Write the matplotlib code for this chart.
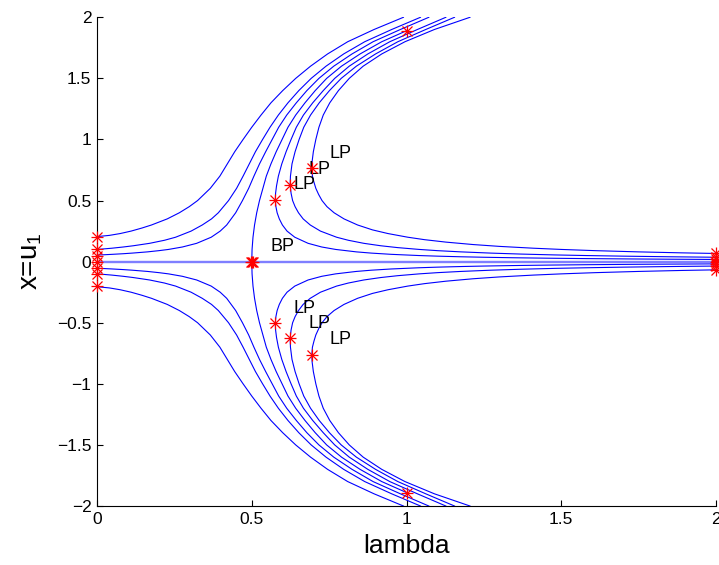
import numpy as np
import matplotlib
matplotlib.use('Agg')
import matplotlib.pyplot as plt

plt.rcParams['font.family'] = ['Liberation Sans', 'DejaVu Sans']
plt.rcParams['mathtext.fontset'] = 'custom'
plt.rcParams['mathtext.rm'] = 'Liberation Sans'

# upper half of each branch (x >= 0); the lower half is its mirror image
# branches starting at lambda = 0
a1_x = [0.205, 0.215, 0.23, 0.25, 0.275, 0.3, 0.35, 0.4, 0.45, 0.5, 0.6, 0.7, 0.8, 0.9, 1.0,
        1.1, 1.2, 1.3, 1.4, 1.5, 1.6, 1.7, 1.8, 1.9, 2.0]
a1_l = [0.0, 0.04, 0.075, 0.11, 0.145, 0.176, 0.227, 0.266, 0.298, 0.325, 0.366, 0.397, 0.421, 0.445, 0.472,
        0.50, 0.53, 0.562, 0.60, 0.642, 0.69, 0.745, 0.81, 0.895, 0.99]
a2_x = [0.1, 0.105, 0.11, 0.12, 0.13, 0.15, 0.175, 0.2, 0.25, 0.3, 0.35, 0.4, 0.5, 0.6, 0.7, 0.8, 0.9, 1.0,
        1.1, 1.2, 1.3, 1.4, 1.5, 1.6, 1.7, 1.8, 1.9, 2.0]
a2_l = [0.0, 0.025, 0.048, 0.085, 0.117, 0.17, 0.218, 0.254, 0.304, 0.34, 0.37, 0.392, 0.425, 0.451, 0.472,
        0.492, 0.512, 0.535, 0.559, 0.586, 0.617, 0.652, 0.692, 0.74, 0.797, 0.865, 0.952, 1.045]
a3_x = [0.054, 0.057, 0.06, 0.065, 0.07, 0.08, 0.09, 0.1, 0.12, 0.15, 0.2, 0.25, 0.3, 0.4, 0.5, 0.6, 0.7,
        0.8, 0.9, 1.0, 1.1, 1.2, 1.3, 1.4, 1.5, 1.6, 1.7, 1.8, 1.9, 2.0]
a3_l = [0.0, 0.027, 0.05, 0.085, 0.114, 0.163, 0.2, 0.231, 0.276, 0.322, 0.369, 0.398, 0.419, 0.448, 0.47,
        0.49, 0.507, 0.525, 0.545, 0.566, 0.587, 0.613, 0.644, 0.678, 0.717, 0.765, 0.824, 0.892, 0.98, 1.072]

# branch leaving the BP
b_x = [0.0, 0.1, 0.2, 0.3, 0.4, 0.5, 0.6, 0.7, 0.8, 0.9, 1.0, 1.1, 1.2, 1.3, 1.4, 1.5, 1.6, 1.7, 1.8, 1.89]
b_l = [0.5, 0.501, 0.504, 0.509, 0.516, 0.525, 0.536, 0.547, 0.562, 0.579, 0.598, 0.617, 0.642, 0.672,
       0.705, 0.742, 0.79, 0.85, 0.92, 1.0]

# branches with a limit point (coming from lambda = 2)
c1_x = [0.018, 0.02, 0.022, 0.025, 0.028, 0.032, 0.036, 0.04, 0.045, 0.05, 0.06, 0.07, 0.08, 0.1, 0.12,
        0.15, 0.2, 0.25, 0.3, 0.35, 0.4, 0.45, 0.505, 0.56, 0.62, 0.7, 0.8, 0.9, 1.0, 1.1, 1.2, 1.3,
        1.4, 1.5, 1.6, 1.7, 1.8, 1.9, 2.0]
c1_l = [2.0, 1.85, 1.727, 1.58, 1.464, 1.344, 1.25, 1.175, 1.10, 1.04, 0.95, 0.886, 0.838, 0.771, 0.726,
        0.682, 0.639, 0.614, 0.599, 0.589, 0.582, 0.578, 0.576, 0.577, 0.58, 0.586, 0.597, 0.611, 0.627,
        0.644, 0.667, 0.697, 0.731, 0.768, 0.815, 0.875, 0.946, 1.035, 1.127]
c2_x = [0.036, 0.04, 0.045, 0.05, 0.055, 0.062, 0.07, 0.08, 0.09, 0.1, 0.115, 0.13, 0.15, 0.175, 0.2,
        0.25, 0.3, 0.35, 0.4, 0.45, 0.5, 0.56, 0.628, 0.7, 0.8, 0.9, 1.0, 1.1, 1.2, 1.3, 1.4, 1.5, 1.6,
        1.7, 1.8, 1.9, 2.0]
c2_l = [2.0, 1.85, 1.70, 1.58, 1.48, 1.37, 1.272, 1.176, 1.10, 1.041, 0.971, 0.917, 0.862, 0.812, 0.774,
        0.722, 0.689, 0.666, 0.651, 0.64, 0.632, 0.627, 0.624, 0.625, 0.63, 0.64, 0.653, 0.668, 0.69,
        0.718, 0.751, 0.789, 0.838, 0.9, 0.972, 1.062, 1.155]
c3_x = [0.067, 0.072, 0.08, 0.09, 0.1, 0.11, 0.125, 0.14, 0.16, 0.18, 0.2, 0.23, 0.26, 0.3, 0.35, 0.4,
        0.45, 0.5, 0.55, 0.6, 0.65, 0.7, 0.764, 0.82, 0.9, 1.0, 1.1, 1.2, 1.3, 1.4, 1.5, 1.6, 1.7, 1.8,
        1.9, 2.0]
c3_l = [2.0, 1.89, 1.75, 1.61, 1.50, 1.41, 1.30, 1.215, 1.127, 1.058, 1.004, 0.94, 0.89, 0.842, 0.798,
        0.766, 0.743, 0.727, 0.716, 0.707, 0.701, 0.696, 0.694, 0.695, 0.699, 0.707, 0.717, 0.731, 0.752,
        0.78, 0.815, 0.86, 0.92, 0.995, 1.09, 1.205]

# trivial branch
triv_l = [0.0, 2.0]
triv_x = [0.0, 0.0]

# special points
start_x = [0.2, 0.1, 0.05, 0.0, -0.05, -0.1, -0.2]
end_x = [0.067, 0.036, 0.018, 0.0, -0.018, -0.036, -0.067]
bp = (0.5, 0.0)
lp_l = [0.576, 0.624, 0.694]
lp_x = [0.505, 0.628, 0.764]
stop_pt = (1.0, 1.89)

fig = plt.figure(figsize=(7.19, 5.65), dpi=100)
ax = fig.add_axes([0.1349, 0.1044, 0.861, 0.865])

blue = '#0000ff'
for xs, ls in [(a1_x, a1_l), (a2_x, a2_l), (a3_x, a3_l), (b_x, b_l),
               (c1_x, c1_l), (c2_x, c2_l), (c3_x, c3_l)]:
    xs = np.array(xs)
    ax.plot(ls, xs, color=blue, lw=0.8)
    ax.plot(ls, -xs, color=blue, lw=0.8)
ax.plot(triv_l, triv_x, color='#7f7fff', lw=1.7)


def star(lam, x):
    ax.plot(lam, x, ls='none', marker='+', ms=9, mew=0.9, color='red', clip_on=False, zorder=5)
    ax.plot(lam, x, ls='none', marker='x', ms=7, mew=0.9, color='red', clip_on=False, zorder=5)


star(np.zeros(len(start_x)), start_x)
star(np.full(len(end_x), 2.0), end_x)
star([bp[0] - 0.004, bp[0], bp[0] + 0.004], [bp[1]] * 3)
star(lp_l + lp_l, lp_x + [-v for v in lp_x])
star([stop_pt[0], stop_pt[0]], [stop_pt[1], -stop_pt[1]])

for lam, x in zip(lp_l, lp_x):
    ax.text(lam + 0.058, x + 0.123, 'LP', fontsize=13, ha='left', va='center')
    ax.text(lam + 0.058, -x + 0.123, 'LP', fontsize=13, ha='left', va='center')
ax.text(bp[0] + 0.059, bp[1] + 0.12, 'BP', fontsize=13, ha='left', va='center')

ax.set_xlim(0, 2)
ax.set_ylim(-2, 2)
ax.set_xticks([0, 0.5, 1, 1.5, 2])
ax.set_xticklabels(['0', '0.5', '1', '1.5', '2'])
ax.set_yticks(np.arange(-2, 2.01, 0.5))
ax.set_yticklabels(['\u22122', '\u22121.5', '\u22121', '\u22120.5', '0', '0.5', '1', '1.5', '2'])
ax.tick_params(direction='in', length=4.5, width=0.8, labelsize=12.5, pad=4)
ax.spines['top'].set_visible(False)
ax.spines['right'].set_visible(False)
ax.set_xlabel('lambda', fontsize=19, labelpad=5)
ax.set_ylabel('x=u$_1$', fontsize=20, labelpad=9)

fig.savefig('out.png', dpi=100)
